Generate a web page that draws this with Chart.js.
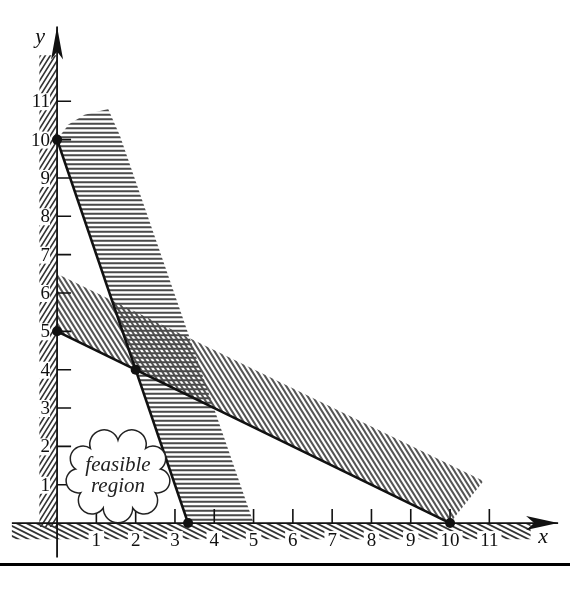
<!DOCTYPE html>
<html>
<head>
<meta charset="utf-8">
<script src="https://cdn.jsdelivr.net/npm/chart.js@4.4.0/dist/chart.umd.min.js"></script>
<style>
  html, body { margin: 0; padding: 0; background: #fff; }
  canvas { display: block; }
</style>
</head>
<body>
<canvas id="lpChart" width="570" height="590"></canvas>
<script>
// constraint lines: 3x + y = 10 and x + 2y = 10
var line1 = [{x: 0, y: 10}, {x: 10 / 3, y: 0}];
var line2 = [{x: 0, y: 5}, {x: 10, y: 0}];
var corners = [{x: 0, y: 10}, {x: 0, y: 5}, {x: 2, y: 4}, {x: 10 / 3, y: 0}, {x: 10, y: 0}];

// shaded bands on the wrong side of each line
var band1 = [{x: 0, y: 10}, {x: 0.3, y: 10.4}, {x: 0.7, y: 10.65}, {x: 1.3, y: 10.8},
             {x: 1.6, y: 10.1}, {x: 5, y: 0}, {x: 10 / 3, y: 0}];
var band2 = [{x: 0, y: 5}, {x: 10, y: 0}, {x: 10.85, y: 1.1}, {x: 0, y: 6.5}];

// x >= 0 and y >= 0 shading along the axes
var leftStrip = [{x: -0.45, y: -0.1}, {x: 0, y: -0.1}, {x: 0, y: 12.2}, {x: -0.45, y: 12.2}];
var bottomStrip = [{x: -1.15, y: 0}, {x: 12.05, y: 0}, {x: 12.05, y: -0.42}, {x: -1.15, y: -0.42}];

// axes
var xAxisLine = [{x: -1.15, y: 0}, {x: 12.75, y: 0}];
var yAxisLine = [{x: 0, y: -0.9}, {x: 0, y: 12.95}];

var xTicks = [1, 2, 3, 4, 5, 6, 7, 8, 9, 10, 11];
var yTicks = [1, 2, 3, 4, 5, 6, 7, 8, 9, 10, 11];
var xTickLabels = ['1', '2', '3', '4', '5', '6', '7', '8', '9', '10', '11'];
var yTickLabels = ['1', '2', '3', '4', '5', '6', '7', '8', '9', '10', '11'];

var regionLabel = ['feasible', 'region'];
var regionAt = {x: 1.55, y: 1.25};

function hatch(w, h, dir, width, color) {
    var c = document.createElement('canvas');
    c.width = w; c.height = h;
    var g = c.getContext('2d');
    g.strokeStyle = color;
    g.lineWidth = width;
    g.beginPath();
    if (dir === 'h') {
        g.moveTo(0, h / 4); g.lineTo(w, h / 4);
        g.moveTo(0, 3 * h / 4); g.lineTo(w, 3 * h / 4);
    } else {
        for (var k = -1; k <= 1; k++) {
            if (dir === '\\') {
                g.moveTo(-w + k * w, -h); g.lineTo(2 * w + k * w, 2 * h);
            } else {
                g.moveTo(-w + k * w, 2 * h); g.lineTo(2 * w + k * w, -h);
            }
        }
    }
    g.stroke();
    return g.createPattern(c, 'repeat');
}

var horiz = hatch(6, 9, 'h', 2, '#4a4a4a');
var slantDown = hatch(5, 8, '\\', 2, '#555');
var stripLeft = hatch(5, 8, '/', 1.6, '#333');
var stripBottom = hatch(10, 5, '\\', 1.8, '#333');

function poly(data, pattern) {
    return {data: data, fill: 'shape', backgroundColor: pattern, borderWidth: 0, pointRadius: 0};
}

var decor = {
    id: 'decor',
    afterDatasetsDraw: function(chart) {
        var ctx = chart.ctx;
        var xs = chart.scales.x, ys = chart.scales.y;
        var x0 = xs.getPixelForValue(0), y0 = ys.getPixelForValue(0);
        ctx.save();
        ctx.strokeStyle = '#111';
        ctx.fillStyle = '#111';
        ctx.lineWidth = 1.6;

        // tick marks
        ctx.beginPath();
        xTicks.forEach(function(v) {
            var px = xs.getPixelForValue(v);
            ctx.moveTo(px, y0); ctx.lineTo(px, y0 - 14);
        });
        yTicks.forEach(function(v) {
            var py = ys.getPixelForValue(v);
            ctx.moveTo(x0, py); ctx.lineTo(x0 + 14, py);
        });
        ctx.stroke();

        // arrow heads
        var ty = ys.getPixelForValue(yAxisLine[1].y);
        ctx.beginPath();
        ctx.moveTo(x0, ty); ctx.lineTo(x0 + 6, ty + 33); ctx.lineTo(x0, ty + 25);
        ctx.lineTo(x0 - 6, ty + 33); ctx.closePath(); ctx.fill();
        var tx = xs.getPixelForValue(xAxisLine[1].x);
        ctx.beginPath();
        ctx.moveTo(tx, y0); ctx.lineTo(tx - 32, y0 - 7); ctx.lineTo(tx - 24, y0);
        ctx.lineTo(tx - 32, y0 + 7); ctx.closePath(); ctx.fill();

        // tick labels
        ctx.font = '19px "Liberation Serif", serif';
        ctx.textBaseline = 'middle';
        ctx.textAlign = 'center';
        xTicks.forEach(function(v, i) {
            var px = xs.getPixelForValue(v);
            var w = ctx.measureText(xTickLabels[i]).width + 6;
            ctx.fillStyle = '#fff';
            ctx.fillRect(px - w / 2, y0 + 8, w, 17);
            ctx.fillStyle = '#111';
            ctx.fillText(xTickLabels[i], px, y0 + 18);
        });
        ctx.textAlign = 'right';
        yTicks.forEach(function(v, i) {
            var py = ys.getPixelForValue(v);
            var w = ctx.measureText(yTickLabels[i]).width + 3;
            ctx.fillStyle = '#fff';
            ctx.fillRect(x0 - 7 - w, py - 8, w, 17);
            ctx.fillStyle = '#111';
            ctx.fillText(yTickLabels[i], x0 - 7, py + 1);
        });

        // axis names
        ctx.font = 'italic 22px "Liberation Serif", serif';
        ctx.textAlign = 'center';
        ctx.fillText('y', x0 - 17, ty + 11);
        ctx.fillText('x', tx - 15, y0 + 14);

        // cloud round the feasible region label
        var cx = xs.getPixelForValue(regionAt.x), cy = ys.getPixelForValue(regionAt.y);
        var rx = 43, ry = 35, n = 9, pts = [];
        for (var i = 0; i < n; i++) {
            var a = -Math.PI / 2 + i * 2 * Math.PI / n;
            pts.push([cx + rx * Math.cos(a), cy + ry * Math.sin(a)]);
        }
        ctx.beginPath();
        for (var j = 0; j < n; j++) {
            var p = pts[j], q = pts[(j + 1) % n];
            var mx = (p[0] + q[0]) / 2, my = (p[1] + q[1]) / 2;
            var r = Math.hypot(q[0] - p[0], q[1] - p[1]) / 2;
            ctx.arc(mx, my, r, Math.atan2(p[1] - my, p[0] - mx), Math.atan2(q[1] - my, q[0] - mx), false);
        }
        ctx.closePath();
        ctx.fillStyle = '#fff';
        ctx.fill();
        ctx.lineWidth = 1.5;
        ctx.strokeStyle = '#222';
        ctx.stroke();
        ctx.fillStyle = '#222';
        ctx.font = 'italic 21px "Liberation Serif", serif';
        ctx.fillText(regionLabel[0], cx, cy - 10);
        ctx.fillText(regionLabel[1], cx, cy + 11);

        // edge of the scanned page
        ctx.fillStyle = '#000';
        ctx.fillRect(0, chart.chartArea.bottom - 22, chart.width, 3);
        ctx.restore();
    }
};

new Chart(document.getElementById('lpChart').getContext('2d'), {
    type: 'line',
    data: {
        datasets: [
            {data: corners, showLine: false, pointRadius: 5, pointBackgroundColor: '#111', pointBorderWidth: 0},
            {data: line1, borderColor: '#111', borderWidth: 2.6, pointRadius: 0, fill: false},
            {data: line2, borderColor: '#111', borderWidth: 2.6, pointRadius: 0, fill: false},
            {data: xAxisLine, borderColor: '#111', borderWidth: 1.8, pointRadius: 0, fill: false},
            {data: yAxisLine, borderColor: '#111', borderWidth: 1.8, pointRadius: 0, fill: false},
            poly(band1, horiz),
            poly(band2, slantDown),
            poly(leftStrip, stripLeft),
            poly(bottomStrip, stripBottom)
        ]
    },
    options: {
        responsive: false,
        animation: false,
        devicePixelRatio: 1,
        layout: {padding: 0},
        plugins: {legend: {display: false}, tooltip: {enabled: false}},
        scales: {
            x: {type: 'linear', min: -1.325, max: 12.925, display: false},
            y: {type: 'linear', min: -1.615, max: 13.51, display: false}
        }
    },
    plugins: [decor]
});
</script>
</body>
</html>
